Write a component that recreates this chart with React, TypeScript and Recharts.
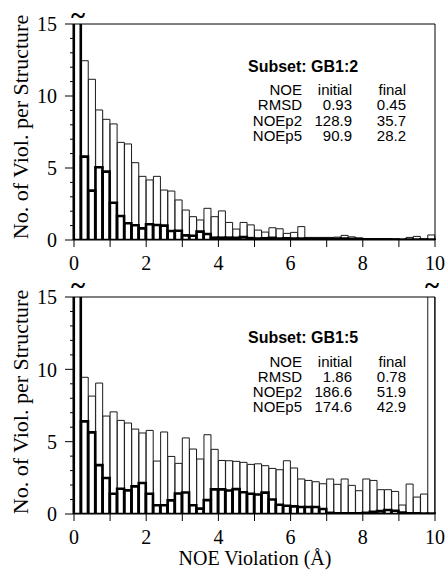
import React from 'react';
import { ComposedChart, Bar, XAxis, YAxis } from 'recharts';

// ---- categories: histogram bins of width 0.2 Å (bin centres) ----
const binCenters = [
  0.1, 0.3, 0.5, 0.7, 0.9, 1.1, 1.3, 1.5, 1.7, 1.9,
  2.1, 2.3, 2.5, 2.7, 2.9, 3.1, 3.3, 3.5, 3.7, 3.9,
  4.1, 4.3, 4.5, 4.7, 4.9, 5.1, 5.3, 5.5, 5.7, 5.9,
  6.1, 6.3, 6.5, 6.7, 6.9, 7.1, 7.3, 7.5, 7.7, 7.9,
  8.1, 8.3, 8.5, 8.7, 8.9, 9.1, 9.3, 9.5, 9.7, 9.9,
];

// ---- series: GB1:2 (values above 15 are off scale) ----
const gb12Initial = [
  20, 12.45, 11.16, 9.03, 8.38, 8.06, 6.78, 6.67, 5.37, 4.42,
  4.17, 4.42, 3.47, 3.4, 2.78, 2.08, 1.62, 1.39, 2.2, 1.62,
  2.02, 1.22, 0.76, 1.22, 1.05, 0.69, 0.55, 0.85, 0.78, 0.46,
  0.53, 0.93, 0.18, 0.18, 0.18, 0.18, 0.2, 0.32, 0.22, 0.15,
  0.1, 0.1, 0.1, 0.1, 0.08, 0.02, 0.18, 0.25, 0.08, 0.35,
];
const gb12Final = [
  20, 5.79, 3.43, 5.05, 4.75, 2.59, 1.67, 1.16, 1.02, 0.81,
  1.09, 1.04, 1.0, 0.63, 0.64, 0.32, 0.3, 0.58, 0.42, 0.16,
  0.16, 0.16, 0.15, 0.2, 0.13, 0.1, 0.12, 0.15, 0.1, 0.12,
  0.1, 0.1, 0.08, 0.08, 0.08, 0.08, 0.08, 0.1, 0.08, 0.06,
  0.05, 0.04, 0.04, 0.04, 0.03, 0.03, 0.03, 0.03, 0.03, 0.03,
];

// ---- series: GB1:5 ----
const gb15Initial = [
  20, 9.45, 8.15, 9.05, 6.77, 7.06, 6.47, 6.29, 5.87, 5.6,
  5.78, 3.66, 5.67, 3.98, 3.5, 5.26, 4.49, 3.8, 5.48, 4.47,
  3.7, 3.68, 3.64, 3.57, 3.43, 3.47, 3.34, 3.15, 3.06, 3.68,
  3.18, 2.42, 2.32, 2.23, 2.09, 2.42, 2.05, 2.42, 1.98, 1.61,
  2.42, 2.32, 1.68, 1.68, 1.56, 0.62, 2.07, 1.17, 1.38, 20,
];
const gb15Final = [
  20, 6.4, 5.64, 3.38, 2.49, 1.4, 1.75, 1.63, 1.91, 2.14,
  1.4, 0.6, 0.6, 0.94, 1.42, 1.49, 0.6, 0.37, 0.96, 1.7,
  1.7, 1.62, 1.72, 1.5, 1.4, 1.35, 1.48, 1.0, 0.64, 0.57,
  0.53, 0.48, 0.48, 0.48, 0.35, 0.08, 0.05, 0.05, 0.05, 0.05,
  0.08, 0.15, 0.2, 0.28, 0.22, 0.1, 0.05, 0.05, 0.03, 0.03,
];

// ---- ticks ----
const xTicks = [0, 1, 2, 3, 4, 5, 6, 7, 8, 9, 10];
const yTicks = [0, 1, 2, 3, 4, 5, 6, 7, 8, 9, 10, 11, 12, 13, 14, 15];

// ---- annotation text ----
const tableHeader = ['NOE', 'initial', 'final'];
const statLabels = ['RMSD', 'NOEp2', 'NOEp5'];
const gb12InitialStats = ['0.93', '128.9', '90.9'];
const gb12FinalStats = ['0.45', '35.7', '28.2'];
const gb15InitialStats = ['1.86', '186.6', '174.6'];
const gb15FinalStats = ['0.78', '51.9', '42.9'];

const SERIF = '"Liberation Serif", "Times New Roman", serif';
const SANS = '"Liberation Sans", Arial, Helvetica, sans-serif';

const buildData = (initial: number[], final: number[]) =>
  binCenters.map((x, i) => ({ bin: i, x, initial: initial[i], final: final[i] }));

const YTick = (props: any) => {
  const { x, y, payload } = props;
  const v = payload.value as number;
  const major = v % 5 === 0;
  return (
    <g>
      <line x1={x - (major ? 9 : 4)} x2={x} y1={y} y2={y} stroke="#000" strokeWidth={1} />
      {major && (
        <text x={x - 17} y={y} dy="0.36em" textAnchor="end" fontFamily={SERIF} fontSize={20} fill="#000">
          {v}
        </text>
      )}
    </g>
  );
};

const XTick = (props: any) => {
  const { x, y, payload } = props;
  const v = payload.value as number;
  return (
    <g>
      <line x1={x} x2={x} y1={y} y2={y + 7} stroke="#000" strokeWidth={1} />
      {v % 2 === 0 && (
        <text x={x} y={y + 30} textAnchor="middle" fontFamily={SERIF} fontSize={20} fill="#000">
          {v}
        </text>
      )}
    </g>
  );
};

type PanelProps = {
  data: any[];
  height: number;
  marginTop: number;
  marginBottom: number;
};

const Panel = ({ data, height, marginTop, marginBottom }: PanelProps) => (
  <ComposedChart
    width={446}
    height={height}
    data={data}
    margin={{ top: marginTop, right: 10, bottom: marginBottom, left: 73 }}
    barCategoryGap={0}
    barGap="-100%"
  >
    <XAxis
      xAxisId="num"
      dataKey="x"
      type="number"
      domain={[0, 10]}
      ticks={xTicks}
      interval={0}
      height={1}
      tickSize={0}
      tickMargin={0}
      tickLine={false}
      tick={<XTick />}
      stroke="#000"
      allowDataOverflow
    />
    <XAxis xAxisId="bins" dataKey="bin" type="category" hide height={0} />
    <XAxis
      xAxisId="frameTop"
      dataKey="x"
      type="number"
      orientation="top"
      domain={[0, 10]}
      height={1}
      tick={false}
      tickLine={false}
      stroke="#000"
      allowDataOverflow
    />
    <YAxis
      yAxisId="left"
      type="number"
      domain={[0, 15]}
      ticks={yTicks}
      interval={0}
      width={1}
      tickSize={0}
      tickMargin={0}
      tickLine={false}
      tick={<YTick />}
      stroke="#000"
      allowDataOverflow
    />
    <YAxis
      yAxisId="frameRight"
      orientation="right"
      type="number"
      domain={[0, 15]}
      width={1}
      tick={false}
      tickLine={false}
      stroke="#000"
      allowDataOverflow
    />
    <Bar
      xAxisId="bins"
      yAxisId="left"
      dataKey="initial"
      fill="#fff"
      stroke="#1a1a1a"
      strokeWidth={1}
      isAnimationActive={false}
    />
    <Bar
      xAxisId="bins"
      yAxisId="left"
      dataKey="final"
      fill="none"
      stroke="#000"
      strokeWidth={2.6}
      isAnimationActive={false}
    />
  </ComposedChart>
);

const StatsTable = ({
  title,
  initial,
  final,
  top,
}: {
  title: string;
  initial: string[];
  final: string[];
  top: number;
}) => {
  const col1 = 302;
  const col2 = 352;
  const col3 = 406;
  const rowY = (i: number) => top + 23.5 + i * 15.3;
  return (
    <g fontFamily={SANS} fontSize={15} fill="#000">
      <text x={248} y={top} fontWeight="bold" fontSize={16}>
        {title}
      </text>
      <text x={col1} y={rowY(0)} textAnchor="end">{tableHeader[0]}</text>
      <text x={col2} y={rowY(0)} textAnchor="end">{tableHeader[1]}</text>
      <text x={col3} y={rowY(0)} textAnchor="end">{tableHeader[2]}</text>
      {statLabels.map((lab, i) => (
        <g key={lab}>
          <text x={col1} y={rowY(i + 1)} textAnchor="end">{lab}</text>
          <text x={col2} y={rowY(i + 1)} textAnchor="end">{initial[i]}</text>
          <text x={col3} y={rowY(i + 1)} textAnchor="end">{final[i]}</text>
        </g>
      ))}
    </g>
  );
};

const Tilde = ({ x, y }: { x: number; y: number }) => (
  <text x={x} y={y} textAnchor="middle" fontFamily={SERIF} fontWeight="bold" fontSize={27} fill="#000">
    ~
  </text>
);

export default function App() {
  const top = buildData(gb12Initial, gb12Final);
  const bottom = buildData(gb15Initial, gb15Final);
  return (
    <div style={{ position: 'absolute', left: 0, top: 0, width: 446, height: 571, background: '#fff' }}>
      <div style={{ position: 'absolute', left: 0, top: 0 }}>
        <Panel data={top} height={278} marginTop={23} marginBottom={37} />
      </div>
      <div style={{ position: 'absolute', left: 0, top: 278 }}>
        <Panel data={bottom} height={293} marginTop={18} marginBottom={56} />
      </div>
      <svg
        width={446}
        height={571}
        style={{ position: 'absolute', left: 0, top: 0, pointerEvents: 'none' }}
      >
        <text
          x={28}
          y={127}
          transform="rotate(-90 28 127)"
          textAnchor="middle"
          fontFamily={SERIF}
          fontSize={22}
          fill="#000"
        >
          No. of Viol. per Structure
        </text>
        <text
          x={28}
          y={402}
          transform="rotate(-90 28 402)"
          textAnchor="middle"
          fontFamily={SERIF}
          fontSize={22}
          fill="#000"
        >
          No. of Viol. per Structure
        </text>
        <text x={255} y={565} textAnchor="middle" fontFamily={SERIF} fontSize={20} fill="#000">
          NOE Violation (Å)
        </text>
        <Tilde x={78} y={24} />
        <Tilde x={78} y={294} />
        <Tilde x={432} y={294} />
        <StatsTable title="Subset: GB1:2" initial={gb12InitialStats} final={gb12FinalStats} top={71.5} />
        <StatsTable title="Subset: GB1:5" initial={gb15InitialStats} final={gb15FinalStats} top={343} />
      </svg>
    </div>
  );
}
